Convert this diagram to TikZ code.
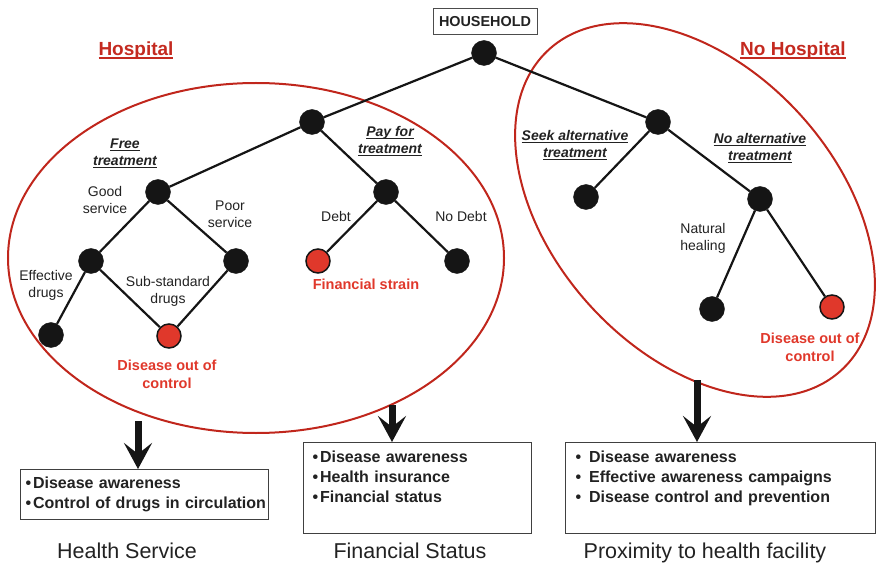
\documentclass[tikz,border=0pt]{standalone}
\usepackage{fontspec}
\setmainfont{Liberation Sans}
\usetikzlibrary{positioning,arrows.meta}
\definecolor{treeblack}{HTML}{151515}
\definecolor{labelgray}{HTML}{222222}
\definecolor{hosred}{HTML}{C42A20}
\definecolor{alertred}{HTML}{E0382B}
\definecolor{rimred}{HTML}{C0261C}
% underlined label, rule drawn below the baseline
\newcommand{\ulbl}[2][1pt]{\setbox0\hbox{#2}\rlap{\rule[-2.6pt]{\wd0}{#1}}\box0}
\newcommand{\itm}[1]{\mbox{\textbullet\hspace{2pt}#1}\strut}
\newcommand{\itmw}[1]{\mbox{\textbullet\hspace{8pt}#1}\strut}
\begin{document}
\begin{tikzpicture}[x=1pt,y=-1pt,
	blackdot/.style={
		circle,
		fill=treeblack,
		draw=treeblack,
		minimum size=25pt,
		inner sep=0pt
	},
	reddot/.style={
		circle,
		fill=alertred,
		draw=treeblack,
		line width=1.5pt,
		minimum size=24pt,
		inner sep=0pt
	},
	branch/.style={
		draw=treeblack,
		line width=2.2pt
	},
	lbl/.style={
		font=\fontsize{14}{17}\selectfont,
		text=labelgray,
		align=center,
		inner sep=0pt
	},
	choice/.style={
		lbl,
		font=\fontsize{14}{17}\selectfont\bfseries\itshape
	},
	outcome/.style={
		lbl,
		font=\fontsize{14.5}{18}\selectfont\bfseries,
		text=alertred
	},
	grouptitle/.style={
		font=\fontsize{19}{22}\selectfont\bfseries,
		text=hosred,
		inner sep=0pt
	},
	rim/.style={
		draw=rimred,
		line width=2pt
	},
	listbox/.style={
		draw=black!75,
		line width=1pt,
		anchor=north west,
		align=left,
		font=\fontsize{16}{20}\selectfont\bfseries,
		text=labelgray,
		inner ysep=0pt
	},
	factor/.style={
		font=\fontsize{21.5}{24}\selectfont,
		text=labelgray,
		inner sep=0pt,
		anchor=base
	},
	bigarrow/.style={
		draw=treeblack,
		line width=7pt,
		-{Stealth[length=26pt,width=28pt,inset=11pt]}
	}
	]
	\useasboundingbox (0,0) rectangle (876,564);
	
	% Groups
	\draw[rim] (256,258) ellipse [x radius=248pt, y radius=175pt];
	\draw[rim, rotate around={-47.7:(695,210)}] (695,210) ellipse [x radius=217pt, y radius=142pt];
	\node[grouptitle] (hosptitle) at (136,51) {\ulbl[1.8pt]{Hospital}};
	\node[grouptitle] (nohosptitle) at (793,51) {\ulbl[1.8pt]{No Hospital}};
	
	% Tree
	\node[draw=black!70, line width=1pt, minimum width=104pt, minimum height=26pt, inner sep=0pt,
		font=\fontsize{14.4}{17}\selectfont\bfseries, text=labelgray] (household) at (485,22) {HOUSEHOLD};
	\node[blackdot] (root) at (484,53) {};
	\node[blackdot] (hosp) at (312,122) {};
	\node[blackdot] (nohosp) at (658,122) {};
	\node[blackdot] (free) at (158,192) {};
	\node[blackdot] (pay) at (386,192) {};
	\node[blackdot] (good) at (91,261) {};
	\node[blackdot] (poor) at (236,261) {};
	\node[blackdot] (effective) at (51,335) {};
	\node[reddot] (uncontrolled) at (169,336) {};
	\node[reddot] (strain) at (318,261) {};
	\node[blackdot] (nodebt) at (457,261) {};
	\node[blackdot] (seek) at (586,197) {};
	\node[blackdot] (noalt) at (760,199) {};
	\node[blackdot] (natural) at (712,309) {};
	\node[reddot] (uncontrolledr) at (832,307) {};
	
	\draw[branch] (root) -- (hosp);
	\draw[branch] (root) -- (nohosp);
	\draw[branch] (hosp) -- (free);
	\draw[branch] (hosp) -- (pay);
	\draw[branch] (free) -- (good);
	\draw[branch] (free) -- (poor);
	\draw[branch] (good) -- (effective);
	\draw[branch] (good) -- (uncontrolled);
	\draw[branch] (poor) -- (uncontrolled);
	\draw[branch] (pay) -- (strain);
	\draw[branch] (pay) -- (nodebt);
	\draw[branch] (nohosp) -- (seek);
	\draw[branch] (nohosp) -- (noalt);
	\draw[branch] (noalt) -- (natural);
	\draw[branch] (noalt) -- (uncontrolledr);
	
	% Labels
	\node[choice] (lblfree) at (125,153) {\ulbl{Free}\\\ulbl{treatment}};
	\node[choice] (lblpay) at (390,141) {\ulbl{Pay for}\\\ulbl{treatment}};
	\node[choice] (lblseek) at (575,145) {\ulbl{Seek alternative}\\\ulbl{treatment}};
	\node[choice] (lblnoalt) at (760,148) {\ulbl{No alternative}\\\ulbl{treatment}};
	\node[lbl] (lblgood) at (105,200) {Good\\service};
	\node[lbl] (lblpoor) at (230,214) {Poor\\service};
	\node[lbl] (lbleffective) at (46,285) {Effective\\drugs};
	\node[lbl] (lblsub) at (168,291) {Sub-standard\\drugs};
	\node[lbl] (lbldebt) at (336,216) {Debt};
	\node[lbl] (lblnodebt) at (461,216) {No Debt};
	\node[lbl] (lblnatural) at (703,238) {Natural\\healing};
	\node[outcome] (lbluncontrolled) at (167,374) {Disease out of\\control};
	\node[outcome] (lblstrain) at (366,284) {Financial strain};
	\node[outcome] (lbluncontrolledr) at (810,347) {Disease out of\\control};
	
	% Measures
	\node[listbox, minimum width=248pt, minimum height=50pt, inner xsep=5pt, text width=238pt] (hsbox) at (20,469)
		{\itm{Disease awareness}\\\itm{Control of drugs in circulation}};
	\node[listbox, minimum width=228pt, minimum height=91pt, inner xsep=9pt, text width=210pt] (fsbox) at (303,442)
		{\itm{Disease awareness}\\\itm{Health insurance}\\\itm{Financial status}\\\strut};
	\node[listbox, minimum width=310pt, minimum height=91pt, inner xsep=10pt, text width=290pt] (pxbox) at (565,442)
		{\itmw{Disease awareness}\\\itmw{Effective awareness campaigns}\\\itmw{Disease control and prevention}\\\strut};
	
	\coordinate (hsstart) at (138,421);
	\coordinate (fsstart) at (392,405);
	\coordinate (pxstart) at (697,380);
	\draw[bigarrow] (hsstart) -- (hsstart |- hsbox.north);
	\draw[bigarrow] (fsstart) -- (fsstart |- fsbox.north);
	\draw[bigarrow] (pxstart) -- (pxstart |- pxbox.north);
	
	\node[factor] (hscaption) at (127,558) {Health Service};
	\node[factor] (fscaption) at (410,558) {Financial Status};
	\node[factor] (pxcaption) at (705,558) {Proximity to health facility};
	
\end{tikzpicture}
\end{document}
